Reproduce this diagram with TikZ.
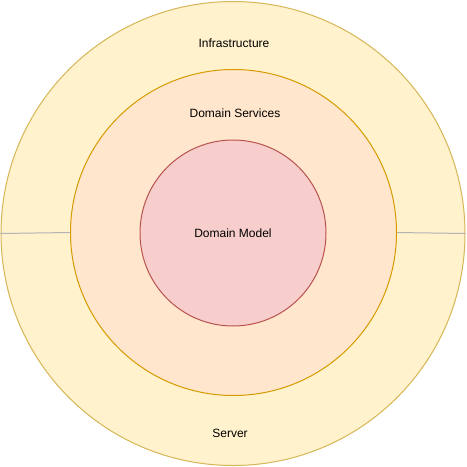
\documentclass[tikz,border=0pt]{standalone}
\usepackage{fontspec}
\setmainfont{Liberation Sans}
\definecolor{outerfill}{HTML}{FFF2CC}
\definecolor{outerdraw}{HTML}{D6B656}
\definecolor{midfill}{HTML}{FFE6CC}
\definecolor{middraw}{HTML}{D79B00}
\definecolor{innfill}{HTML}{F8CECC}
\definecolor{inndraw}{HTML}{B85450}
\definecolor{sepline}{HTML}{B3B3B3}
\begin{document}
\begin{tikzpicture}[x=1pt,y=-1pt,
  ring/.style={circle,inner sep=0pt,line width=1pt},
  lbl/.style={font=\fontsize{12}{14}\selectfont,text=black,inner sep=0pt},
  sep/.style={draw=sepline,line width=1pt}]
\useasboundingbox (0,0) rectangle (467,467);
\node[ring,draw=outerdraw,fill=outerfill,minimum size=464pt] (outer) at (233,233.5) {};
\node[ring,draw=middraw,fill=midfill,minimum size=326pt] (mid) at (233.5,232.5) {};
\node[ring,draw=inndraw,fill=innfill,minimum size=186pt] (inner) at (233,233) {};
\draw[sep] (outer.west) -- (mid.west);
\draw[sep] (mid.east) -- (outer.east);
\node[lbl] (infra) at (234,43) {Infrastructure};
\node[lbl] (dserv) at (235,113) {Domain Services};
\node[lbl] (dmodel) at (233,233) {Domain Model};
\node[lbl] (server) at (230,433) {Server};
\end{tikzpicture}
\end{document}
